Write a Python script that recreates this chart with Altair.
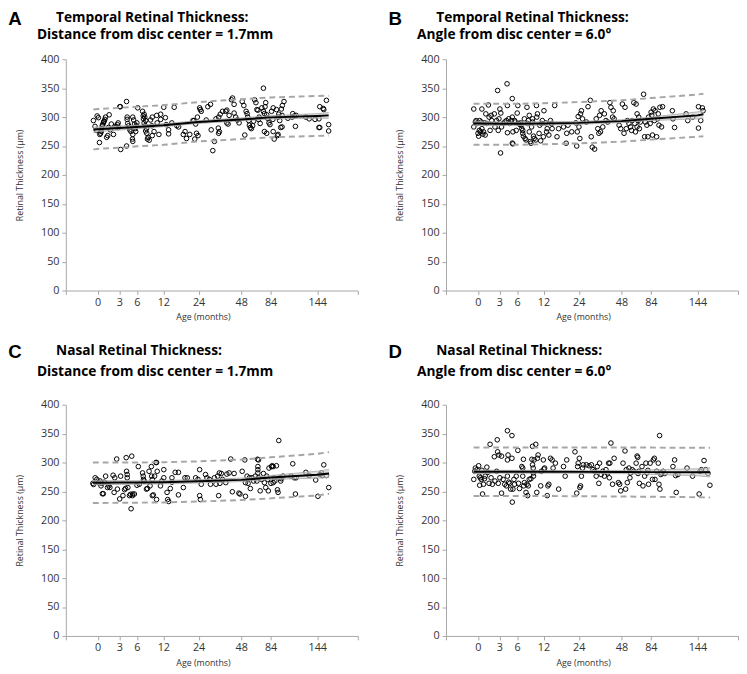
import altair as alt
import pandas as pd

# ---------------- axis definitions ----------------
AGE_TICKS = [-6, 0, 3, 6, 12, 24, 48, 84, 144, 240]
AGE_RANGE_PX = [0, 32.5, 54.5, 72.5, 99.5, 135.5, 179, 209, 256.6, 298]
Y_TICKS = [0, 50, 100, 150, 200, 250, 300, 350, 400]

# ---------------- Panel A: Temporal, distance 1.7mm ----------------
A_points = [
    (-0.8, 294), (-0.5, 284), (-0.1, 302), (-0.2, 277), (0.1, 299),
    (0.25, 256), (0.3, 270), (0.4, 272), (0.5, 275), (0.55, 280), (0.65, 285), (0.7, 287),
    (0.8, 290), (0.85, 292), (0.9, 293), (1.0, 296), (1.1, 300), (1.25, 265), (1.4, 268),
    (1.5, 282), (1.6, 304), (1.75, 278), (1.9, 288), (2.2, 270), (2.4, 284), (2.6, 283),
    (2.75, 287), (2.85, 290), (2.9, 282), (3.1, 318), (3.2, 318),
    (3.25, 244), (4.25, 250), (4.25, 327), (4.35, 300), (4.35, 296), (4.45, 289), (4.6, 285),
    (4.7, 282), (4.8, 278), (5.0, 275), (5.3, 270), (5.25, 262), (5.3, 258), (5.3, 300),
    (5.45, 295), (5.6, 288), (5.7, 280), (5.8, 275), (6.2, 316), (5.9, 285), (6.0, 290),
    (7.3, 310), (7.65, 305), (7.45, 302), (7.8, 300), (7.5, 297), (8.0, 294), (7.65, 290),
    (7.9, 285), (8.2, 280), (8.0, 276), (8.25, 272), (8.55, 265), (8.4, 262), (8.8, 260),
    (9.5, 268), (9.9, 275), (9.5, 300), (10.5, 303), (10.6, 290), (11.4, 296), (11.0, 270),
    (11.4, 305), (9.4, 285), (9.1, 295),
    (12.15, 317), (12.7, 299), (13.0, 287), (13.8, 278), (13.8, 271), (15.7, 317), (16.6, 285),
    (17.2, 283), (14.9, 290), (18.8, 270), (19.4, 275), (19.9, 263), (21.0, 270), (22.1, 294),
    (22.4, 294), (23.0, 288), (22.7, 262), (23.3, 272), (23.8, 268),
    (23.6, 300), (24.6, 316), (25.0, 313), (25.5, 310), (28.3, 295), (29.2, 318), (30.7, 322),
    (31.1, 278), (32.0, 242), (32.9, 258), (35.3, 272), (35.7, 275), (35.1, 281), (33.8, 297),
    (35.3, 300), (36.2, 305), (37.5, 310), (39.3, 310), (39.9, 312), (39.9, 290), (40.6, 288),
    (41.2, 303), (42.5, 330), (43.1, 333), (44.0, 322), (44.0, 307), (44.9, 300), (45.8, 295),
    (46.8, 290),
    (49.2, 327), (51.2, 320), (52.4, 269), (54.0, 310), (55.2, 306), (56.0, 300), (57.2, 294),
    (58.0, 286), (59.2, 282), (60.4, 280), (62.0, 285), (63.2, 293), (64.4, 330), (66.0, 325),
    (67.2, 313), (68.4, 312), (69.2, 296), (70.0, 300), (71.2, 289), (73.2, 316), (75.2, 310),
    (75.2, 350), (76.4, 306), (76.4, 275), (77.2, 318), (78.0, 325), (79.2, 304), (79.2, 272),
    (80.4, 298), (82.0, 290), (83.2, 287),
    (85.2, 310), (86.9, 296), (87.3, 316), (87.3, 275), (88.6, 262), (91.5, 313), (92.8, 268),
    (93.6, 300), (93.6, 270), (94.5, 305), (95.7, 294), (97.0, 282), (97.8, 314), (98.7, 303),
    (98.7, 283), (99.1, 320), (101.2, 327), (106.2, 298), (111.6, 300), (112.5, 306),
    (114.6, 302), (115.9, 284), (116.8, 303), (129.4, 300), (133.6, 297), (141.1, 296),
    (148, 282), (150, 282), (148, 297), (150, 318), (158, 315), (159.5, 313), (165.7, 329),
    (171, 287), (171, 276),
]
A_knots = [-0.8, 0, 3, 6, 12, 24, 48, 84, 144, 171]
A_fit = [278, 279, 281, 283, 286, 291.5, 296, 299.5, 302, 303]
A_upper = [313, 314, 316, 318, 320.5, 326, 331, 334, 336.5, 337]
A_lower = [244, 245, 247, 249.5, 252, 258, 262, 265, 267.5, 268]
A_ci_lo = [273, 275, 277.5, 280, 283.5, 289, 293.5, 296.5, 298, 298]
A_ci_hi = [283, 283, 284.5, 286, 288.5, 294, 298.5, 302.5, 306, 308]

# ---------------- Panel B: Temporal, angle 6.0 ----------------
B_points = [
    (-0.77, 314), (-0.77, 283), (-0.47, 291.5), (-0.34, 294), (-0.16, 289), (0.02, 272),
    (0.11, 267), (0.2, 277), (0.34, 274.5), (0.25, 294), (0.47, 291.5), (0.56, 280),
    (0.7, 270.6), (0.79, 274.5), (0.56, 314), (0.93, 290), (1.02, 269), (1.11, 305.6),
    (1.25, 289), (1.47, 321), (1.56, 300), (1.7, 277), (1.84, 303), (1.93, 294), (2.29, 305.6),
    (2.38, 283), (2.61, 294), (2.75, 346), (2.84, 277), (2.93, 297),
    (3.08, 314), (3.19, 238), (3.24, 307), (3.36, 283), (3.63, 289), (3.91, 291.5), (4.19, 294),
    (4.3, 357.6), (4.36, 320), (4.36, 273), (4.58, 297), (4.75, 289), (5.02, 294), (5.19, 332),
    (5.19, 255), (5.3, 253.7), (5.19, 300), (5.3, 274.5), (5.58, 294), (5.69, 291.5),
    (5.86, 277),
    (6.03, 307), (6.18, 320), (6.33, 289), (6.55, 287.6), (6.77, 290), (6.92, 286), (7.07, 280),
    (7.29, 277), (7.29, 272), (7.44, 267), (7.66, 297), (7.81, 263), (8.03, 260.5), (8.25, 317),
    (8.4, 289), (8.55, 294), (8.77, 303), (8.77, 274.5), (9.0, 257.6), (9.14, 254.8),
    (9.29, 283), (9.51, 291.5), (9.51, 297), (9.73, 267), (9.88, 263), (10.25, 260.5),
    (10.4, 320), (10.47, 300), (10.62, 305.6), (10.99, 271.8), (11.14, 286), (11.36, 259),
    (11.58, 289), (11.73, 294), (11.96, 266),
    (12.15, 311), (12.71, 290), (13.04, 274.5), (13.26, 280), (13.82, 269), (14.37, 294),
    (14.7, 289), (14.92, 280), (15.81, 320), (16.59, 266), (17.14, 280), (18.8, 283),
    (19.7, 254.8), (19.9, 272), (20.3, 286), (21.6, 274.5), (23.0, 290), (23.3, 250),
    (23.5, 274.5), (23.8, 301),
    (24.1, 283), (24.6, 263), (25.0, 305.6), (25.5, 311), (26.1, 297), (28.3, 291.5),
    (29.2, 318), (30.5, 329), (31.0, 266), (31.6, 248), (32.9, 244.6), (33.8, 297), (34.7, 280),
    (35.3, 272), (35.7, 303), (36.2, 274.5), (36.6, 311), (37.5, 283), (38.4, 305.6), (39.3, 294),
    (40.3, 291.5), (41.5, 325), (42.1, 317), (43.0, 300), (43.4, 311), (43.9, 297), (46.7, 286),
    (47.6, 280),
    (49.2, 322.6), (51.2, 272), (52.4, 317), (54.0, 280), (55.2, 294), (57.2, 289), (59.2, 283),
    (60.4, 277), (61.2, 294), (63.2, 325), (64.4, 289), (65.2, 274.5), (66.0, 322.6),
    (67.2, 305.6), (67.2, 283), (68.4, 294), (69.2, 300), (70.0, 280), (71.2, 291.5),
    (75.2, 339.5), (76.4, 266), (77.2, 291.5), (79.2, 286), (80.4, 266), (81.2, 300), (83.2, 289),
    (84.4, 308.5), (85.2, 303), (86.1, 269), (87.3, 314), (88.6, 294), (89.4, 311), (91.5, 266),
    (92.8, 297), (93.6, 305.6), (94.5, 286), (95.7, 317), (97.8, 283), (99.1, 318), (111.7, 311),
    (112.5, 297), (114.6, 282), (129.4, 305.6), (131.5, 294), (137.8, 300),
    (146.4, 318), (146.4, 281), (151.8, 294), (155.7, 316), (157.3, 311),
]
B_knots = [-0.8, 0, 3, 6, 12, 24, 48, 84, 144, 158]
B_fit = [289, 289, 288.5, 288.5, 289, 290, 293, 297, 303, 305]
B_upper = [323, 323, 323, 323, 324, 326, 329, 333, 339, 340.5]
B_lower = [252, 252, 252, 252, 253, 254.5, 257.5, 261, 266, 267]
B_ci_lo = [285, 285.5, 285.5, 285.5, 286, 287.5, 290.5, 294, 297, 298]
B_ci_hi = [293, 292.5, 291.5, 291.5, 292, 292.5, 295.5, 300, 309, 312]

# ---------------- Panel C: Nasal, distance 1.7mm ----------------
C_points = [
    (-0.9, 264), (-0.77, 262), (-0.47, 273.6), (-0.16, 270.8), (0.11, 265.2), (0.34, 268),
    (0.47, 259.6), (0.56, 264), (0.65, 246), (0.79, 246), (0.93, 266), (1.11, 276.4),
    (1.38, 256.7), (1.56, 259.6), (1.7, 256.7), (2.15, 278), (2.29, 248.3), (2.38, 273.6),
    (2.65, 306), (2.75, 254),
    (3.08, 237), (3.24, 276.4), (3.63, 242.7), (3.91, 253), (4.08, 255.3), (4.19, 308.4),
    (4.25, 284.8), (4.36, 279.2), (4.36, 273.6), (4.47, 256.7), (4.75, 242.7), (4.91, 245),
    (5.02, 220), (5.13, 311), (5.25, 242.7), (5.3, 245.5), (5.58, 245.5),
    (6.03, 260.7), (6.33, 293), (6.55, 262.4), (7.29, 282), (7.44, 276.4), (7.51, 270.8),
    (7.66, 268), (8.18, 254), (8.4, 255), (8.77, 284.8), (8.99, 259.6), (9.29, 293),
    (9.36, 276.4), (9.51, 270.8), (9.51, 242.7), (9.73, 244), (10.03, 276.4), (10.32, 300),
    (10.47, 300), (10.62, 284.8), (10.47, 236), (11.36, 259.6), (11.66, 268),
    (12.16, 273.6), (12.16, 287.6), (13.27, 248.3), (13.49, 236), (13.82, 232.6), (14.38, 255),
    (14.93, 266), (14.93, 273.6), (16.04, 283), (17.15, 283), (17.15, 244), (18.82, 256.7),
    (19.37, 273.6), (20.15, 273.6), (23.0, 273.6), (23.8, 270.8),
    (24.6, 287.6), (24.6, 242.7), (25.0, 236), (25.5, 262.4), (27.9, 279.2), (28.7, 273.6),
    (30.1, 270.8), (30.7, 262.4), (32.9, 273.6), (33.8, 262.4), (34.7, 276.4), (35.3, 242.7),
    (35.7, 282), (36.0, 264), (36.8, 281), (37.5, 270.8), (39.3, 265.2), (39.9, 280),
    (41.2, 282), (42.1, 306), (43.0, 249.4), (44.0, 281), (46.7, 247), (47.3, 245.5),
    (49.2, 284.8), (52.4, 304.5), (53.2, 265.2), (53.2, 241.6), (55.2, 276.4), (56.4, 264),
    (58.0, 273.6), (59.2, 255), (61.2, 273.6), (63.2, 268), (65.2, 276.4), (67.2, 268),
    (68.0, 305.6), (69.2, 304.5), (68.4, 293), (68.4, 287.6), (68.4, 282), (69.2, 273.6),
    (71.2, 251), (73.2, 270.8), (75.2, 281), (76.4, 265.2), (78.0, 256.7), (79.2, 276.4),
    (80.4, 270.8), (81.2, 251), (82.0, 290.4),
    (84.4, 264), (85.2, 293), (86.1, 294.4), (87.3, 265.2), (87.3, 293), (88.6, 273.6),
    (89.4, 268), (91.5, 294.4), (92.8, 252.8), (93.6, 248.3), (94.5, 338), (95.7, 273.6),
    (97.0, 268), (97.8, 272), (99.9, 276.4), (110.4, 276.4), (112.5, 297.8), (114.6, 273.6),
    (115.9, 245.5), (116.8, 273.6), (129.4, 283), (133.6, 277.5), (142.0, 269.7),
    (145.6, 241.6), (150.3, 279.2), (154.1, 282), (155.7, 277.5), (159.5, 296), (165.7, 277.5),
    (171.2, 256.7),
]
C_knots = [-0.9, 0, 3, 6, 12, 24, 48, 84, 144, 172]
C_fit = [265, 265, 265.3, 265.5, 266, 267.5, 270, 274, 279, 281]
C_upper = [300, 300, 300, 300, 300.5, 302, 305, 309, 315, 318]
C_lower = [230, 230, 230.3, 230.5, 231, 232.5, 235, 238, 243, 246]
C_ci_lo = [261, 261.5, 262, 262.5, 263, 264.5, 267, 270.5, 273, 274]
C_ci_hi = [269, 268.5, 268.5, 268.5, 269, 270.5, 273, 277.5, 285, 288]

# ---------------- Panel D: Nasal, angle 6.0 ----------------
D_points = [
    (-0.77, 270.8), (-0.59, 284.8), (-0.47, 290.4), (-0.16, 287.6), (0.11, 294.4), (0.2, 276.4),
    (0.25, 260.7), (0.34, 273.6), (0.47, 270.8), (0.56, 286.5), (0.65, 245.5), (0.79, 262.4),
    (0.93, 272), (1.02, 276.4), (1.25, 292), (1.38, 283), (1.56, 264), (1.7, 331.5),
    (1.84, 273.6), (2.02, 262.4), (2.29, 310), (2.38, 268), (2.61, 284.8), (2.7, 339.3),
    (2.75, 318.5), (2.84, 264), (2.93, 313),
    (3.08, 273.6), (3.36, 311), (3.36, 247), (3.63, 270.8), (3.91, 262.4), (4.19, 259.6),
    (4.36, 276.4), (4.36, 304.5), (4.36, 355), (4.47, 313), (4.58, 266), (4.75, 264),
    (4.91, 254), (5.13, 346.6), (5.13, 307.3), (5.19, 231.5), (5.3, 254), (5.47, 270.8),
    (5.58, 262.4), (5.86, 276.4),
    (6.18, 321), (6.33, 264), (6.55, 255), (7.07, 293), (7.29, 276.4), (7.29, 290.4),
    (7.44, 305.6), (7.51, 259.6), (7.66, 265.2), (8.03, 248.3), (8.25, 262.4), (8.4, 242.7),
    (8.55, 259.6), (8.77, 270.8), (9.14, 272), (9.36, 305.6), (9.51, 328), (9.51, 296),
    (9.66, 290.4), (9.66, 282), (9.73, 276.4), (9.88, 304.5), (10.25, 331.5), (10.47, 248.3),
    (10.62, 307.3), (10.77, 313), (11.36, 259.6), (11.51, 284.8), (11.96, 304.5),
    (12.15, 288.8), (12.38, 290.4), (13.26, 242.7), (13.49, 259.6), (13.82, 262.4),
    (14.37, 307.3), (14.92, 304.5), (15.26, 290.4), (16.04, 298.9), (17.15, 254), (18.8, 293),
    (19.37, 276.4), (19.9, 304.5), (22.7, 318.5), (23.3, 247), (23.6, 293), (23.8, 299),
    (24.3, 307.3), (24.6, 256.7), (25.0, 259.6), (25.5, 276.4), (26.1, 290.4), (26.5, 296),
    (28.3, 296), (29.8, 294.4), (31.1, 296), (32.0, 287.6), (32.9, 284.8), (33.8, 276.4),
    (34.4, 293), (35.3, 264), (35.7, 298.9), (36.6, 279.2), (37.5, 284.8), (38.4, 276.4),
    (39.3, 287.6), (40.3, 282), (40.8, 298.9), (41.2, 273.6), (41.5, 298.9), (42.1, 333.7),
    (43.0, 262.4), (43.9, 307.3), (46.3, 265.2), (47.0, 262.4), (47.6, 251),
    (50.0, 298.9), (52.4, 320), (53.2, 254), (54.0, 287.6), (55.2, 265.2), (57.2, 290.4),
    (58.4, 273.6), (59.2, 282), (61.2, 287.6), (63.2, 284.8), (66.0, 298.9), (67.2, 311.2),
    (68.0, 309), (69.2, 284.8), (68.4, 281), (70.0, 264), (73.2, 293), (74.4, 259.6),
    (76.4, 276.4), (78.0, 298.9), (79.2, 282), (80.4, 286.5), (81.2, 262.4), (83.2, 298.9),
    (86.1, 270.8), (87.3, 304.5), (88.6, 307.3), (89.4, 270.8), (91.5, 284.8), (93.6, 298.9),
    (94.5, 262.4), (95.3, 346.6), (95.7, 254), (97.0, 279.2), (97.8, 282), (99.9, 284.8),
    (102.0, 281), (112.5, 293), (114.6, 304.5), (115.9, 277.5), (116.7, 248.3), (118.8, 279.2),
    (130.6, 290.4), (137.7, 276.4),
    (148.0, 245.5), (150.3, 284.8), (153.4, 287.6), (159.6, 303.4), (163.5, 287.6),
    (168.9, 281), (173.5, 260.7),
]
D_knots = [-0.8, 0, 3, 6, 12, 24, 48, 84, 144, 174]
D_fit = [284, 284, 284, 284, 284, 283.8, 283.6, 283.4, 283.1, 283]
D_upper = [326, 326, 326, 326, 326, 326, 326, 325.8, 325.5, 325.5]
D_lower = [242, 242, 242, 242, 242, 241.7, 241.2, 240.7, 240, 239.5]
D_ci_lo = [280.5, 281, 281.5, 281.5, 281.5, 281.3, 280.8, 279.5, 277, 275]
D_ci_hi = [287.5, 287, 286.5, 286.5, 286.5, 286.3, 286.4, 287.3, 289.2, 291]

W, H = 298, 236
FONT = "Open Sans"
AX_GRAY = "#a6a6a6"
TXT = "#333333"

X_AXIS = alt.Axis(
    values=AGE_TICKS,
    labelExpr="(datum.value < 0 || datum.value > 200) ? '' : datum.label",
    title="Age (months)", grid=False, domainColor=AX_GRAY, tickColor=AX_GRAY,
    tickSize=4, labelFont=FONT, labelFontSize=11, labelColor=TXT,
    labelPadding=2, titleFont=FONT, titleFontSize=9, titleFontWeight="normal",
    titleColor=TXT, titlePadding=6, titleX=140,
)
Y_AXIS = alt.Axis(
    values=Y_TICKS, title="Retinal Thickness (µm)", grid=False,
    domainColor=AX_GRAY, tickColor=AX_GRAY, tickSize=4,
    labelFont=FONT, labelFontSize=11, labelColor=TXT, labelPadding=3,
    titleFont=FONT, titleFontSize=9, titleFontWeight="normal",
    titleColor=TXT, titleX=-42, titleY=H / 2, titleAngle=270,
    titleBaseline="bottom", titleAlign="center",
)
X_SCALE = alt.Scale(domain=AGE_TICKS, range=AGE_RANGE_PX, nice=False, zero=False)
Y_SCALE = alt.Scale(domain=[0, 400], nice=False, zero=False)


def xe():
    return alt.X("age:Q", scale=X_SCALE, axis=X_AXIS)


def ye(field):
    return alt.Y(field + ":Q", scale=Y_SCALE, axis=Y_AXIS)


def panel(points, knots, fit, upper, lower, ci_lo, ci_hi, letter, line1, line2, ty):
    # ty = (letter baseline, line1 baseline, line2 baseline), relative to plot top
    pts = pd.DataFrame(points, columns=["age", "thk"])
    cur = pd.DataFrame({"age": knots, "fit": fit, "up": upper, "lo": lower,
                        "cil": ci_lo, "cih": ci_hi})

    p = alt.Chart(pts).mark_point(shape="circle", filled=False, size=22, strokeWidth=1,
                                  color="black", opacity=1).encode(x=xe(), y=ye("thk"))
    band = alt.Chart(cur).mark_area(color="#c8c8c8", opacity=0.6).encode(
        x=xe(), y=ye("cil"), y2="cih:Q")
    b1 = alt.Chart(cur).mark_line(color=AX_GRAY, strokeWidth=0.8).encode(x=xe(), y=ye("cil"))
    b2 = alt.Chart(cur).mark_line(color=AX_GRAY, strokeWidth=0.8).encode(x=xe(), y=ye("cih"))
    up = alt.Chart(cur).mark_line(color=AX_GRAY, strokeWidth=2, strokeDash=[6, 4]).encode(
        x=xe(), y=ye("up"))
    lo = alt.Chart(cur).mark_line(color=AX_GRAY, strokeWidth=2, strokeDash=[6, 4]).encode(
        x=xe(), y=ye("lo"))
    f = alt.Chart(cur).mark_line(color="black", strokeWidth=2).encode(x=xe(), y=ye("fit"))

    lab = pd.DataFrame({"t": [letter]})
    t1 = pd.DataFrame({"t": [line1]})
    t2 = pd.DataFrame({"t": [line2]})
    letter_m = alt.Chart(lab).mark_text(font="Liberation Sans", fontSize=19, fontWeight="bold",
                                        align="left", baseline="alphabetic", color="black").encode(
        text="t:N", x=alt.value(-58.7), y=alt.value(ty[0]))
    l1 = alt.Chart(t1).mark_text(font=FONT, fontSize=14, fontWeight="bold", align="left",
                                 baseline="alphabetic", color="black").encode(
        text="t:N", x=alt.value(-10), y=alt.value(ty[1]))
    l2 = alt.Chart(t2).mark_text(font=FONT, fontSize=14, fontWeight="bold", align="left",
                                 baseline="alphabetic", color="black").encode(
        text="t:N", x=alt.value(-29.5), y=alt.value(ty[2]))

    return alt.layer(p, band, b1, b2, up, lo, f, letter_m, l1, l2).properties(width=W, height=H)


TOP_ROW = (-34.5, -38.5, -20.5)
BOTTOM_ROW = (-48, -51, -29)

pA = panel(A_points, A_knots, A_fit, A_upper, A_lower, A_ci_lo, A_ci_hi, "A",
           "Temporal Retinal Thickness:", "Distance from disc center = 1.7mm", TOP_ROW)
pB = panel(B_points, B_knots, B_fit, B_upper, B_lower, B_ci_lo, B_ci_hi, "B",
           "Temporal Retinal Thickness:", "Angle from disc center = 6.0°", TOP_ROW)
pC = panel(C_points, C_knots, C_fit, C_upper, C_lower, C_ci_lo, C_ci_hi, "C",
           "Nasal Retinal Thickness:", "Distance from disc center = 1.7mm", BOTTOM_ROW)
pD = panel(D_points, D_knots, D_fit, D_upper, D_lower, D_ci_lo, D_ci_hi, "D",
           "Nasal Retinal Thickness:", "Angle from disc center = 6.0°", BOTTOM_ROW)

chart = alt.vconcat(
    alt.hconcat(pA, pB, spacing=30),
    alt.hconcat(pC, pD, spacing=30),
    spacing=21.5,
).properties(
    padding={"top": -4.5, "left": 0, "right": 0, "bottom": 0}, background="white"
).configure_view(stroke=None)

chart.save("out.html", embed_options={"renderer": "svg", "actions": False})
